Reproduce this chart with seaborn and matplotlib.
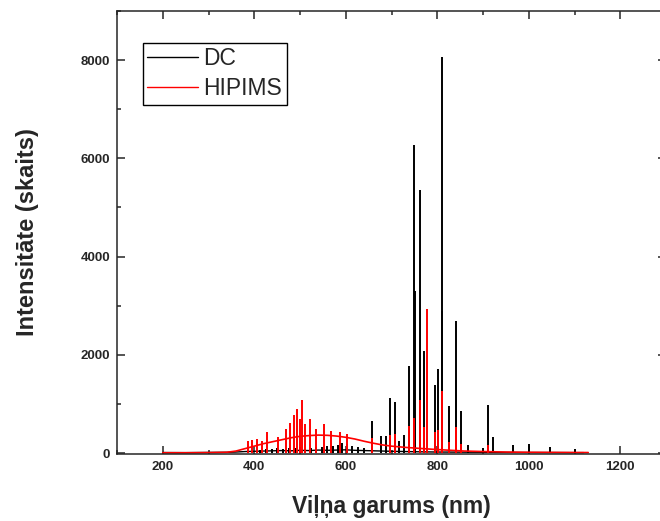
import numpy as np
import pandas as pd
import matplotlib
matplotlib.use("Agg")
import matplotlib.pyplot as plt
from matplotlib.ticker import MultipleLocator
import seaborn as sns

# DC spectrum - continuum (nm, counts)
dc_base_nm = [200, 250, 300, 340, 360, 380, 400, 420, 440, 460, 480, 500, 520, 540,
              560, 580, 600, 620, 640, 660, 680, 700, 730, 760, 800, 850, 900, 950,
              1000, 1050, 1100, 1120]
dc_base_counts = [10, 8, 12, 15, 20, 30, 35, 40, 45, 50, 45, 55, 50, 60,
                  55, 60, 65, 55, 50, 45, 40, 35, 30, 25, 20, 18, 15, 12,
                  10, 10, 8, 8]

# DC emission lines
dc_line_nm = [412, 425, 438, 450, 463, 476, 488, 499, 510, 523, 536, 548, 560, 572,
              584, 592, 603, 614, 626, 640, 657, 676, 687, 697, 707, 716, 727, 738,
              751, 750, 763, 772, 795, 801, 810, 811, 826, 841, 842, 852, 867, 900,
              912, 922, 966, 1000, 1047, 1100]
dc_line_counts = [70, 90, 80, 100, 85, 110, 95, 120, 90, 110, 130, 120, 150, 140,
                  170, 210, 190, 140, 120, 100, 650, 345, 350, 1120, 1040, 250, 365, 1770,
                  3300, 6270, 5360, 2080, 1380, 1720, 2900, 8060, 960, 1480, 2680, 860, 160, 100,
                  975, 320, 165, 180, 120, 90]

# HIPIMS spectrum - continuum (nm, counts)
hipims_base_nm = [200, 250, 300, 340, 360, 380, 400, 420, 440, 460, 480, 500, 520, 540,
                  560, 580, 600, 620, 640, 660, 680, 700, 730, 760, 800, 830, 860, 900,
                  950, 1000, 1050, 1100, 1130]
hipims_base_counts = [5, 5, 8, 15, 40, 90, 140, 190, 230, 270, 310, 340, 355, 365,
                      360, 345, 320, 285, 240, 200, 165, 140, 115, 95, 70, 55, 40, 30,
                      20, 15, 12, 10, 10]

# HIPIMS emission lines
hipims_line_nm = [386, 396, 405, 417, 428, 452, 470, 479, 487, 493, 499, 504, 512, 522,
                  536, 552, 568, 588, 602, 657, 697, 707, 738, 750, 763, 772, 778, 795,
                  801, 811, 826, 841, 842, 852, 912]
hipims_line_counts = [250, 270, 280, 240, 420, 330, 480, 610, 770, 890, 700, 1070, 590, 690,
                      480, 590, 440, 430, 380, 300, 370, 385, 555, 710, 1080, 535, 2930, 425,
                      465, 1265, 230, 535, 490, 180, 160]

sns.set_style("ticks")
plt.rcParams['font.family'] = ['Liberation Sans', 'DejaVu Sans']

fig = plt.figure(figsize=(6.6, 5.21), dpi=100)
ax = fig.add_axes([117 / 660, 67 / 521, 549 / 660, 443 / 521])

dc_df = pd.DataFrame({'nm': dc_base_nm, 'counts': dc_base_counts})
hip_df = pd.DataFrame({'nm': hipims_base_nm, 'counts': hipims_base_counts})

sns.lineplot(data=dc_df, x='nm', y='counts', color='black', lw=1.0,
             estimator=None, label='DC', ax=ax)
ax.vlines(dc_line_nm, 0, dc_line_counts, color='black', lw=1.4)

sns.lineplot(data=hip_df, x='nm', y='counts', color='#ff0000', lw=1.2,
             estimator=None, label='HIPIMS', ax=ax)
ax.vlines(hipims_line_nm, 0, hipims_line_counts, color='#ff0000', lw=1.4)

ax.set_xlim(100, 1300)
ax.set_ylim(-20, 9000)
ax.xaxis.set_major_locator(MultipleLocator(200))
ax.xaxis.set_minor_locator(MultipleLocator(100))
ax.yaxis.set_major_locator(MultipleLocator(2000))
ax.yaxis.set_minor_locator(MultipleLocator(1000))
ax.tick_params(which='both', direction='in', top=True, right=True, width=1.1,
               labelsize=9.5, pad=5)
ax.tick_params(which='major', length=6)
ax.tick_params(which='minor', length=3)
for lab in ax.get_xticklabels() + ax.get_yticklabels():
    lab.set_fontweight('bold')
for sp in ax.spines.values():
    sp.set_linewidth(1.1)

ax.set_xlabel('Viļņa garums (nm)', fontsize=16.5, fontweight='bold', labelpad=16)
ax.set_ylabel('Intensitāte (skaits)', fontsize=17, fontweight='bold')
ax.yaxis.set_label_coords(-0.142, 0.5)

leg = ax.legend(loc='upper left', bbox_to_anchor=(0.047, 0.928), borderaxespad=0,
                fontsize=16.5, frameon=True, fancybox=False, framealpha=1,
                handlelength=2.2, handletextpad=0.25, labelspacing=0.3,
                borderpad=0.2)
leg.get_frame().set_edgecolor('black')
leg.get_frame().set_linewidth(1.0)
for h in leg.get_lines():
    h.set_linewidth(1.0)

fig.savefig('out.png', dpi=100)
